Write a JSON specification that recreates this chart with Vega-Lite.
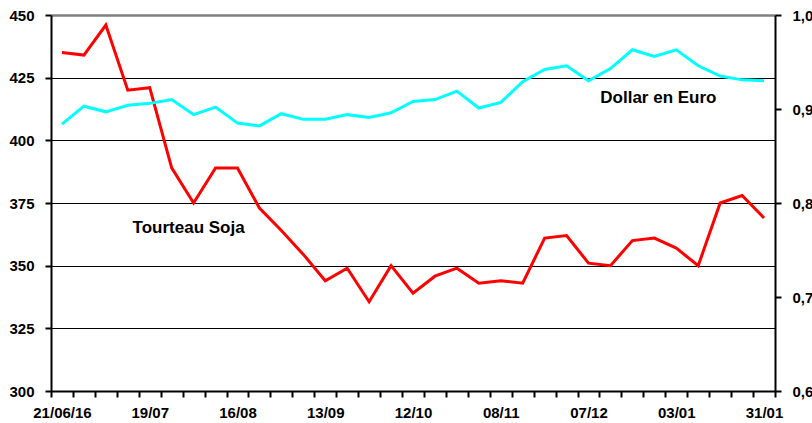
{
  "$schema": "https://vega.github.io/schema/vega-lite/v6.json",
  "width": 724,
  "height": 376,
  "autosize": {"type": "none"},
  "padding": {"left": 51, "top": 15, "right": 37, "bottom": 32},
  "background": "white",
  "config": {
    "view": {"stroke": null},
    "font": "Liberation Sans",
    "axis": {"labelFont": "Liberation Sans", "labelFontWeight": "bold", "labelFontSize": 15, "labelColor": "black", "domainColor": "black", "tickColor": "black", "domainWidth": 2, "tickWidth": 2, "tickSize": 6, "title": null}
  },
  "data": {
    "values": [
      {"d": "21/06/16", "soja": 435, "usd": 0.884},
      {"d": "28/06", "soja": 434, "usd": 0.903},
      {"d": "05/07", "soja": 446, "usd": 0.897},
      {"d": "12/07", "soja": 420, "usd": 0.904},
      {"d": "19/07", "soja": 421, "usd": 0.906},
      {"d": "26/07", "soja": 389, "usd": 0.910},
      {"d": "02/08", "soja": 375, "usd": 0.894},
      {"d": "09/08", "soja": 389, "usd": 0.902},
      {"d": "16/08", "soja": 389, "usd": 0.885},
      {"d": "23/08", "soja": 373, "usd": 0.882},
      {"d": "30/08", "soja": 364, "usd": 0.895},
      {"d": "06/09", "soja": 354.5, "usd": 0.889},
      {"d": "13/09", "soja": 344, "usd": 0.889},
      {"d": "20/09", "soja": 349, "usd": 0.894},
      {"d": "27/09", "soja": 335.6, "usd": 0.891},
      {"d": "04/10", "soja": 350, "usd": 0.896},
      {"d": "12/10", "soja": 339, "usd": 0.908},
      {"d": "18/10", "soja": 345.8, "usd": 0.910},
      {"d": "25/10", "soja": 349, "usd": 0.919},
      {"d": "01/11", "soja": 343, "usd": 0.901},
      {"d": "08/11", "soja": 344, "usd": 0.907},
      {"d": "15/11", "soja": 343, "usd": 0.929},
      {"d": "22/11", "soja": 361, "usd": 0.942},
      {"d": "29/11", "soja": 362, "usd": 0.946},
      {"d": "07/12", "soja": 351, "usd": 0.930},
      {"d": "13/12", "soja": 350, "usd": 0.943},
      {"d": "20/12", "soja": 360, "usd": 0.963},
      {"d": "27/12", "soja": 361, "usd": 0.956},
      {"d": "03/01", "soja": 357, "usd": 0.963},
      {"d": "10/01", "soja": 350, "usd": 0.946},
      {"d": "17/01", "soja": 375, "usd": 0.935},
      {"d": "24/01", "soja": 378, "usd": 0.931},
      {"d": "31/01", "soja": 369, "usd": 0.930}
    ]
  },
  "encoding": {
    "x": {
      "field": "d", "type": "ordinal", "sort": null,
      "scale": {"type": "band", "paddingInner": 0, "paddingOuter": 0},
      "axis": {
        "labelAngle": 0, "labelOverlap": false, "tickBand": "extent", "labelPadding": 8, "grid": false,
        "labelExpr": "indexof(['21/06/16','19/07','16/08','13/09','12/10','08/11','07/12','03/01','31/01'], datum.label) >= 0 ? datum.label : ''"
      }
    }
  },
  "layer": [
    {
      "mark": {"type": "line", "color": "#FF0000", "strokeWidth": 3},
      "encoding": {
        "y": {
          "field": "soja", "type": "quantitative",
          "scale": {"domain": [300, 450], "nice": false, "zero": false},
          "axis": {
            "values": [300, 325, 350, 375, 400, 425, 450], "labelPadding": 11,
            "grid": true,
            "gridColor": {"condition": {"test": "datum.value === 450", "value": "#808080"}, "value": "black"},
            "gridWidth": {"condition": {"test": "datum.value === 450", "value": 2.5}, "value": 1}
          }
        }
      }
    },
    {
      "mark": {"type": "line", "color": "#00FFFF", "strokeWidth": 3},
      "encoding": {
        "y": {
          "field": "usd", "type": "quantitative",
          "scale": {"domain": [0.6, 1.0], "nice": false, "zero": false},
          "axis": {
            "orient": "right", "values": [0.6, 0.7, 0.8, 0.9, 1.0], "labelPadding": 11, "grid": false,
            "labelExpr": "replace(format(datum.value, '.1f'), '.', ',')"
          }
        }
      }
    },
    {
      "data": {
        "values": [
          {"d": "27/12", "v": 417, "t": "Dollar en Euro", "o": 15},
          {"d": "02/08", "v": 365, "t": "Tourteau Soja", "o": 6}
        ]
      },
      "mark": {"type": "text", "fontSize": 17, "fontWeight": "bold", "color": "black", "align": "center", "baseline": "middle"},
      "encoding": {
        "y": {"field": "v", "type": "quantitative", "scale": {"domain": [300, 450], "nice": false, "zero": false}, "axis": null},
        "xOffset": {"field": "o", "type": "quantitative", "scale": {"domain": [0, 22], "range": [0, 22]}},
        "text": {"field": "t"}
      }
    }
  ],
  "resolve": {"scale": {"y": "independent"}}
}
